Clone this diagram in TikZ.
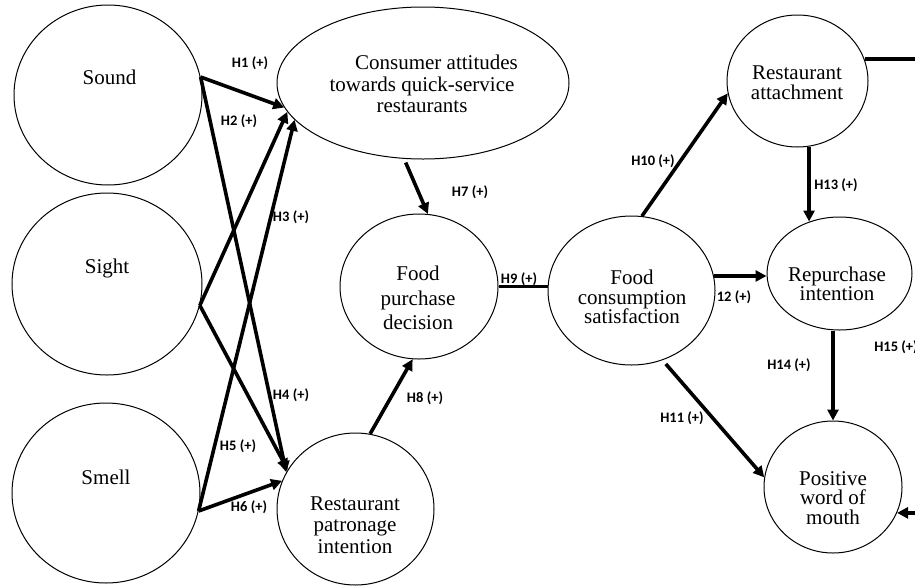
\documentclass[tikz,border=0pt]{standalone}
\usepackage{fontspec}
\setmainfont{Liberation Serif}
\newfontfamily\lblfont{Carlito}
\usetikzlibrary{shapes.geometric,arrows.meta,calc}
\begin{document}
\begin{tikzpicture}[x=1pt,y=-1pt,
  cons/.style={draw, line width=1pt, ellipse, inner sep=0pt},
  ctext/.style={align=center, inner sep=0pt,
    font={\fontsize{21}{#1}\selectfont\lineskiplimit-30pt\relax}},
  hyp/.style={font=\lblfont\bfseries\fontsize{14.5}{16}\selectfont, inner sep=0pt},
  link/.style={line width=3.6pt, -{Triangle[length=11pt,width=11pt]}},
  plainlink/.style={line width=3.6pt}]
\fill[white] (0,0) rectangle (915,587);
\useasboundingbox (0,0) rectangle (915,587);
\clip (0,0) rectangle (915,587);

% constructs
\node[cons, minimum width=188pt, minimum height=180pt] (snd) at (108,95) {};
\node[cons, minimum width=190pt, minimum height=182pt] (sgt) at (107,284) {};
\node[cons, minimum width=188pt, minimum height=180pt] (sml) at (106,493) {};
\node[cons, minimum width=292pt, minimum height=152pt] (att) at (423,83) {};
\node[cons, minimum width=158pt, minimum height=145pt] (fpd) at (419,286.5) {};
\node[cons, minimum width=157pt, minimum height=152pt] (pat) at (355.5,509) {};
\node[cons, minimum width=167pt, minimum height=149pt] (fcs) at (631.5,290.5) {};
\node[cons, minimum width=141pt, minimum height=132pt] (ra) at (797.5,81) {};
\node[cons, minimum width=145pt, minimum height=113pt] (rpi) at (839.5,273.5) {};
\node[cons, minimum width=138pt, minimum height=132pt] (pwm) at (833,487) {};

% construct texts
\node[ctext=21] (sndt) at (109.5,77) {Sound};
\node[ctext=21] (sgtt) at (107,268) {Sight};
\node[ctext=21] (smlt) at (106,477) {Smell};
\node[ctext=21.5] (attt) at (422,84) {\hspace*{29pt}Consumer attitudes\\towards quick-service\\restaurants};
\node[ctext=24.5] (fpdt) at (418,298) {Food\\purchase\\decision};
\node[ctext=21.5] (patt) at (355,525) {Restaurant\\patronage\\intention};
\node[ctext=19.5] (fcst) at (632,297) {Food\\consumption\\satisfaction};
\node[ctext=19.5] (rat) at (797,82.5) {Restaurant\\attachment};
\node[ctext=19.5] (rpit) at (837,284) {Repurchase\\intention};
\node[ctext=19.5] (pwmt) at (833,498) {Positive\\word of\\mouth};

% hypothesis labels
\node[hyp] (h1) at (250,63) {H1 (+)};
\node[hyp] (h2) at (239,121) {H2 (+)};
\node[hyp] (h3) at (291,217) {H3 (+)};
\node[hyp] (h4) at (291,395) {H4 (+)};
\node[hyp] (h5) at (238,446) {H5 (+)};
\node[hyp] (h6) at (249,507) {H6 (+)};
\node[hyp] (h7) at (470,192) {H7 (+)};
\node[hyp] (h8) at (425,398) {H8 (+)};
\node[hyp] (h9) at (519,279) {H9 (+)};
\node[hyp] (h10) at (653,161) {H10 (+)};
\node[hyp] (h11) at (682,418) {H11 (+)};
\node[hyp] (h12) at (734,297) {12 (+)};
\node[hyp] (h13) at (836,185) {H13 (+)};
\node[hyp] (h14) at (789,365) {H14 (+)};
\node[hyp] (h15) at (896,347) {H15 (+)};

% connectors
\draw[link] (snd.11) -- (att.190);
\draw[link] (snd.11) -- (pat.152);
\draw[link] (sgt.-13) -- (att.192);
\draw[link] (sgt.-13) -- (pat.150);
\draw[link] (sml.-11) -- (att.196);
\draw[link] (sml.-11) -- (pat.159);
\draw[link, shorten <=4pt] (att.-104) -- (fpd.83);
\draw[link] (pat.79) -- (fpd.-95);
\draw[plainlink] (fpd.east) -- (fpd.east -| fcs.west);
\draw[link] (fcs.82) -- (ra.190);
\draw[link] (fcs.10) -- (fcs.10 -| rpi.west);
\draw[link, shorten >=-5pt] (ra.-80) -- (ra.-80 |- rpi.north);
\draw[link] (pwm.north |- rpi.south) -- (pwm.north);
\draw[link, shorten <=5pt] (fcs.-66) -- (pwm.172);
\draw[link] (ra.18) -- ++(80,0) |- (pwm.-22);
\end{tikzpicture}
\end{document}
